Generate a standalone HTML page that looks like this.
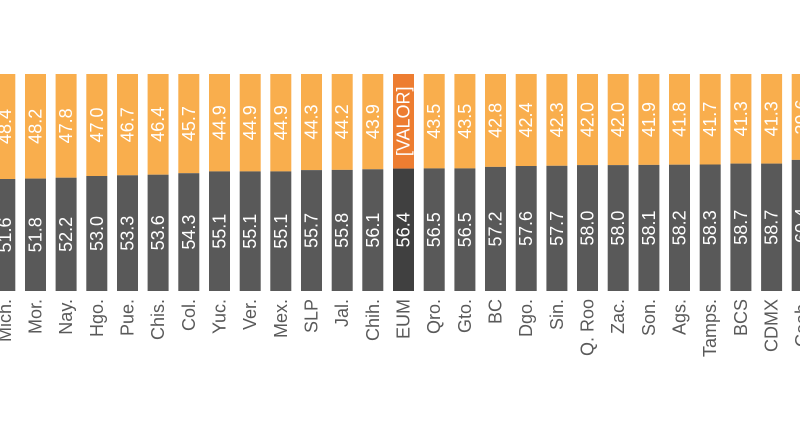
<!DOCTYPE html>
<html><head><meta charset="utf-8"><style>
html,body{margin:0;padding:0;background:#fff;}
svg{display:block;font-family:"Liberation Sans",Arial,sans-serif;}
.v{fill:#fff;font-size:18px;text-anchor:middle;dominant-baseline:central;}
.l{fill:#595959;font-size:18px;text-anchor:end;dominant-baseline:central;}
</style></head><body>
<svg width="800" height="435" viewBox="0 0 800 435">
<g transform="translate(4.8,0)"><rect x="-10.5" y="74" width="21" height="105" fill="#f9ae4d"/><rect x="-10.5" y="179" width="21" height="112" fill="#595959"/><text class="v" transform="translate(0,126.5) rotate(-90)">48.4</text><text class="v" transform="translate(0,235) rotate(-90)">51.6</text><text class="l" transform="translate(0,299) rotate(-90)">Mich.</text></g>
<g transform="translate(35.5,0)"><rect x="-10.5" y="74" width="21" height="104.6" fill="#f9ae4d"/><rect x="-10.5" y="178.6" width="21" height="112.4" fill="#595959"/><text class="v" transform="translate(0,126.3) rotate(-90)">48.2</text><text class="v" transform="translate(0,234.8) rotate(-90)">51.8</text><text class="l" transform="translate(0,299) rotate(-90)">Mor.</text></g>
<g transform="translate(66.1,0)"><rect x="-10.5" y="74" width="21" height="103.7" fill="#f9ae4d"/><rect x="-10.5" y="177.7" width="21" height="113.3" fill="#595959"/><text class="v" transform="translate(0,125.9) rotate(-90)">47.8</text><text class="v" transform="translate(0,234.4) rotate(-90)">52.2</text><text class="l" transform="translate(0,299) rotate(-90)">Nay.</text></g>
<g transform="translate(96.8,0)"><rect x="-10.5" y="74" width="21" height="102" fill="#f9ae4d"/><rect x="-10.5" y="176" width="21" height="115" fill="#595959"/><text class="v" transform="translate(0,125) rotate(-90)">47.0</text><text class="v" transform="translate(0,233.5) rotate(-90)">53.0</text><text class="l" transform="translate(0,299) rotate(-90)">Hgo.</text></g>
<g transform="translate(127.5,0)"><rect x="-10.5" y="74" width="21" height="101.3" fill="#f9ae4d"/><rect x="-10.5" y="175.3" width="21" height="115.7" fill="#595959"/><text class="v" transform="translate(0,124.7) rotate(-90)">46.7</text><text class="v" transform="translate(0,233.2) rotate(-90)">53.3</text><text class="l" transform="translate(0,299) rotate(-90)">Pue.</text></g>
<g transform="translate(158.1,0)"><rect x="-10.5" y="74" width="21" height="100.7" fill="#f9ae4d"/><rect x="-10.5" y="174.7" width="21" height="116.3" fill="#595959"/><text class="v" transform="translate(0,124.3) rotate(-90)">46.4</text><text class="v" transform="translate(0,232.8) rotate(-90)">53.6</text><text class="l" transform="translate(0,299) rotate(-90)">Chis.</text></g>
<g transform="translate(188.8,0)"><rect x="-10.5" y="74" width="21" height="99.2" fill="#f9ae4d"/><rect x="-10.5" y="173.2" width="21" height="117.8" fill="#595959"/><text class="v" transform="translate(0,123.6) rotate(-90)">45.7</text><text class="v" transform="translate(0,232.1) rotate(-90)">54.3</text><text class="l" transform="translate(0,299) rotate(-90)">Col.</text></g>
<g transform="translate(219.5,0)"><rect x="-10.5" y="74" width="21" height="97.4" fill="#f9ae4d"/><rect x="-10.5" y="171.4" width="21" height="119.6" fill="#595959"/><text class="v" transform="translate(0,122.7) rotate(-90)">44.9</text><text class="v" transform="translate(0,231.2) rotate(-90)">55.1</text><text class="l" transform="translate(0,299) rotate(-90)">Yuc.</text></g>
<g transform="translate(250.2,0)"><rect x="-10.5" y="74" width="21" height="97.4" fill="#f9ae4d"/><rect x="-10.5" y="171.4" width="21" height="119.6" fill="#595959"/><text class="v" transform="translate(0,122.7) rotate(-90)">44.9</text><text class="v" transform="translate(0,231.2) rotate(-90)">55.1</text><text class="l" transform="translate(0,299) rotate(-90)">Ver.</text></g>
<g transform="translate(280.8,0)"><rect x="-10.5" y="74" width="21" height="97.4" fill="#f9ae4d"/><rect x="-10.5" y="171.4" width="21" height="119.6" fill="#595959"/><text class="v" transform="translate(0,122.7) rotate(-90)">44.9</text><text class="v" transform="translate(0,231.2) rotate(-90)">55.1</text><text class="l" transform="translate(0,299) rotate(-90)">Mex.</text></g>
<g transform="translate(311.5,0)"><rect x="-10.5" y="74" width="21" height="96.1" fill="#f9ae4d"/><rect x="-10.5" y="170.1" width="21" height="120.9" fill="#595959"/><text class="v" transform="translate(0,122) rotate(-90)">44.3</text><text class="v" transform="translate(0,230.5) rotate(-90)">55.7</text><text class="l" transform="translate(0,299) rotate(-90)">SLP</text></g>
<g transform="translate(342.2,0)"><rect x="-10.5" y="74" width="21" height="95.9" fill="#f9ae4d"/><rect x="-10.5" y="169.9" width="21" height="121.1" fill="#595959"/><text class="v" transform="translate(0,121.9) rotate(-90)">44.2</text><text class="v" transform="translate(0,230.4) rotate(-90)">55.8</text><text class="l" transform="translate(0,299) rotate(-90)">Jal.</text></g>
<g transform="translate(372.8,0)"><rect x="-10.5" y="74" width="21" height="95.3" fill="#f9ae4d"/><rect x="-10.5" y="169.3" width="21" height="121.7" fill="#595959"/><text class="v" transform="translate(0,121.6) rotate(-90)">43.9</text><text class="v" transform="translate(0,230.1) rotate(-90)">56.1</text><text class="l" transform="translate(0,299) rotate(-90)">Chih.</text></g>
<g transform="translate(403.5,0)"><rect x="-10.5" y="74" width="21" height="94.6" fill="#ed7d31"/><rect x="-10.5" y="168.6" width="21" height="122.4" fill="#404040"/><text class="v" transform="translate(0,121.3) rotate(-90)">[VALOR]</text><text class="v" transform="translate(0,229.8) rotate(-90)">56.4</text><text class="l" transform="translate(0,299) rotate(-90)">EUM</text></g>
<g transform="translate(434.2,0)"><rect x="-10.5" y="74" width="21" height="94.4" fill="#f9ae4d"/><rect x="-10.5" y="168.4" width="21" height="122.6" fill="#595959"/><text class="v" transform="translate(0,121.2) rotate(-90)">43.5</text><text class="v" transform="translate(0,229.7) rotate(-90)">56.5</text><text class="l" transform="translate(0,299) rotate(-90)">Qro.</text></g>
<g transform="translate(464.9,0)"><rect x="-10.5" y="74" width="21" height="94.4" fill="#f9ae4d"/><rect x="-10.5" y="168.4" width="21" height="122.6" fill="#595959"/><text class="v" transform="translate(0,121.2) rotate(-90)">43.5</text><text class="v" transform="translate(0,229.7) rotate(-90)">56.5</text><text class="l" transform="translate(0,299) rotate(-90)">Gto.</text></g>
<g transform="translate(495.5,0)"><rect x="-10.5" y="74" width="21" height="92.9" fill="#f9ae4d"/><rect x="-10.5" y="166.9" width="21" height="124.1" fill="#595959"/><text class="v" transform="translate(0,120.4) rotate(-90)">42.8</text><text class="v" transform="translate(0,229) rotate(-90)">57.2</text><text class="l" transform="translate(0,299) rotate(-90)">BC</text></g>
<g transform="translate(526.2,0)"><rect x="-10.5" y="74" width="21" height="92" fill="#f9ae4d"/><rect x="-10.5" y="166" width="21" height="125" fill="#595959"/><text class="v" transform="translate(0,120) rotate(-90)">42.4</text><text class="v" transform="translate(0,228.5) rotate(-90)">57.6</text><text class="l" transform="translate(0,299) rotate(-90)">Dgo.</text></g>
<g transform="translate(556.9,0)"><rect x="-10.5" y="74" width="21" height="91.8" fill="#f9ae4d"/><rect x="-10.5" y="165.8" width="21" height="125.2" fill="#595959"/><text class="v" transform="translate(0,119.9) rotate(-90)">42.3</text><text class="v" transform="translate(0,228.4) rotate(-90)">57.7</text><text class="l" transform="translate(0,299) rotate(-90)">Sin.</text></g>
<g transform="translate(587.5,0)"><rect x="-10.5" y="74" width="21" height="91.1" fill="#f9ae4d"/><rect x="-10.5" y="165.1" width="21" height="125.9" fill="#595959"/><text class="v" transform="translate(0,119.6) rotate(-90)">42.0</text><text class="v" transform="translate(0,228.1) rotate(-90)">58.0</text><text class="l" transform="translate(0,299) rotate(-90)">Q. Roo</text></g>
<g transform="translate(618.2,0)"><rect x="-10.5" y="74" width="21" height="91.1" fill="#f9ae4d"/><rect x="-10.5" y="165.1" width="21" height="125.9" fill="#595959"/><text class="v" transform="translate(0,119.6) rotate(-90)">42.0</text><text class="v" transform="translate(0,228.1) rotate(-90)">58.0</text><text class="l" transform="translate(0,299) rotate(-90)">Zac.</text></g>
<g transform="translate(648.9,0)"><rect x="-10.5" y="74" width="21" height="90.9" fill="#f9ae4d"/><rect x="-10.5" y="164.9" width="21" height="126.1" fill="#595959"/><text class="v" transform="translate(0,119.5) rotate(-90)">41.9</text><text class="v" transform="translate(0,228) rotate(-90)">58.1</text><text class="l" transform="translate(0,299) rotate(-90)">Son.</text></g>
<g transform="translate(679.5,0)"><rect x="-10.5" y="74" width="21" height="90.7" fill="#f9ae4d"/><rect x="-10.5" y="164.7" width="21" height="126.3" fill="#595959"/><text class="v" transform="translate(0,119.4) rotate(-90)">41.8</text><text class="v" transform="translate(0,227.9) rotate(-90)">58.2</text><text class="l" transform="translate(0,299) rotate(-90)">Ags.</text></g>
<g transform="translate(710.2,0)"><rect x="-10.5" y="74" width="21" height="90.5" fill="#f9ae4d"/><rect x="-10.5" y="164.5" width="21" height="126.5" fill="#595959"/><text class="v" transform="translate(0,119.2) rotate(-90)">41.7</text><text class="v" transform="translate(0,227.7) rotate(-90)">58.3</text><text class="l" transform="translate(0,299) rotate(-90)">Tamps.</text></g>
<g transform="translate(740.9,0)"><rect x="-10.5" y="74" width="21" height="89.6" fill="#f9ae4d"/><rect x="-10.5" y="163.6" width="21" height="127.4" fill="#595959"/><text class="v" transform="translate(0,118.8) rotate(-90)">41.3</text><text class="v" transform="translate(0,227.3) rotate(-90)">58.7</text><text class="l" transform="translate(0,299) rotate(-90)">BCS</text></g>
<g transform="translate(771.6,0)"><rect x="-10.5" y="74" width="21" height="89.6" fill="#f9ae4d"/><rect x="-10.5" y="163.6" width="21" height="127.4" fill="#595959"/><text class="v" transform="translate(0,118.8) rotate(-90)">41.3</text><text class="v" transform="translate(0,227.3) rotate(-90)">58.7</text><text class="l" transform="translate(0,299) rotate(-90)">CDMX</text></g>
<g transform="translate(802.2,0)"><rect x="-10.5" y="74" width="21" height="85.9" fill="#f9ae4d"/><rect x="-10.5" y="159.9" width="21" height="131.1" fill="#595959"/><text class="v" transform="translate(0,117) rotate(-90)">39.6</text><text class="v" transform="translate(0,225.5) rotate(-90)">60.4</text><text class="l" transform="translate(0,299) rotate(-90)">Coah.</text></g>
</svg>
</body></html>
